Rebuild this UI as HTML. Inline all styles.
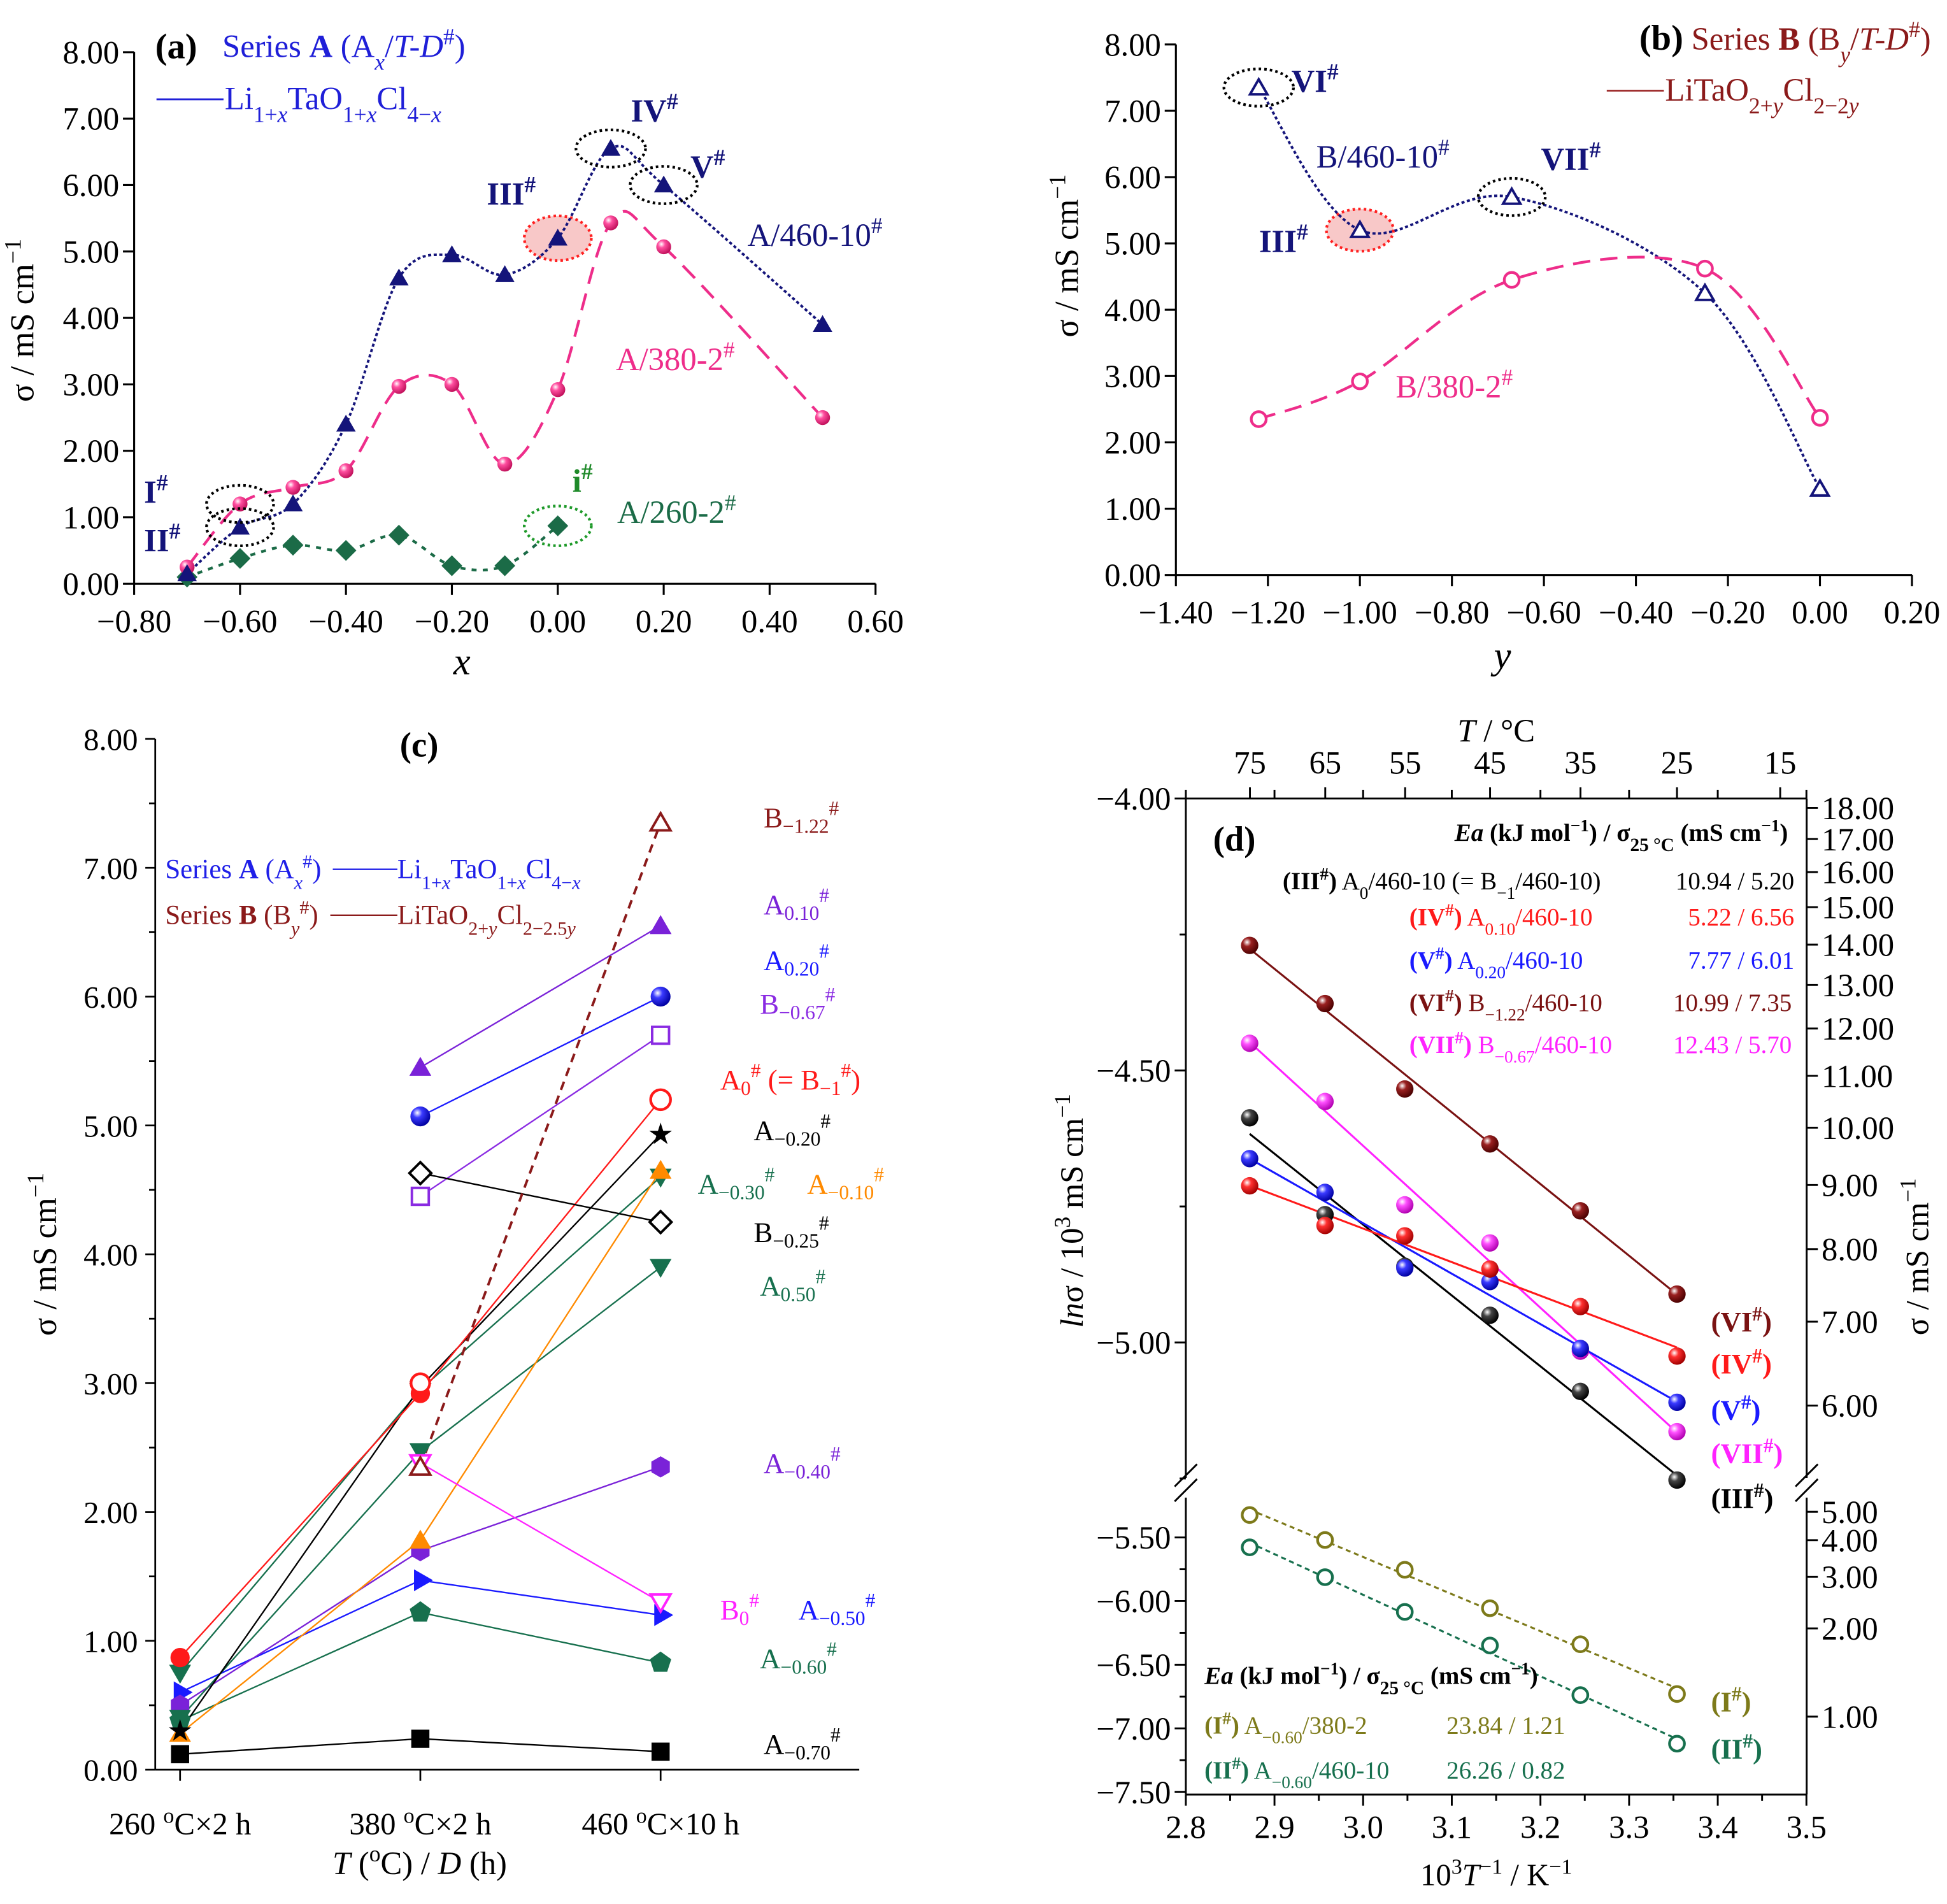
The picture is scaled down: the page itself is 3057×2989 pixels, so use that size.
<!DOCTYPE html>
<html><head><meta charset="utf-8">
<style>
html,body{margin:0;padding:0;background:#fff;}
svg, svg text{font-family:"Liberation Serif","DejaVu Serif",serif;}
</style></head>
<body>
<svg id="fig" xmlns="http://www.w3.org/2000/svg" width="3057" height="2984" viewBox="0 0 1568 1530.6" font-family="Liberation Serif, serif">
<defs id="defs"></defs>
<g id="pa"></g>
<g id="pb"></g>
<g id="pc"></g>
<g id="pd"></g>

<g font-size="26">
<text x="125" y="47" font-weight="bold" font-size="29">(a)</text>
<text x="179" y="46" fill="#1f1fd8">Series <tspan font-weight="bold">A</tspan> (A<tspan font-size="70%" baseline-shift="sub" font-style="italic">x</tspan>/<tspan font-style="italic">T-D</tspan><tspan font-size="70%" baseline-shift="super">#</tspan>)</text>
<line x1="126" y1="80" x2="180" y2="80" stroke="#1f1fd8" stroke-width="1.5"/>
<text x="181" y="88" fill="#1f1fd8">Li<tspan font-size="70%" baseline-shift="sub">1+<tspan font-style="italic">x</tspan></tspan>TaO<tspan font-size="70%" baseline-shift="sub">1+<tspan font-style="italic">x</tspan></tspan>Cl<tspan font-size="70%" baseline-shift="sub">4−<tspan font-style="italic">x</tspan></tspan></text>
<text x="508" y="98" font-weight="bold" fill="#14147a">IV<tspan font-size="70%" baseline-shift="super">#</tspan></text>
<text x="556" y="143" font-weight="bold" fill="#14147a">V<tspan font-size="70%" baseline-shift="super">#</tspan></text>
<text x="392" y="165" font-weight="bold" fill="#14147a">III<tspan font-size="70%" baseline-shift="super">#</tspan></text>
<text x="116" y="405" font-weight="bold" fill="#14147a">I<tspan font-size="70%" baseline-shift="super">#</tspan></text>
<text x="116" y="444" font-weight="bold" fill="#14147a">II<tspan font-size="70%" baseline-shift="super">#</tspan></text>
<text x="461" y="396" font-weight="bold" fill="#1f8a2a">i<tspan font-size="70%" baseline-shift="super">#</tspan></text>
<text x="602" y="198" fill="#14147a">A/460-10<tspan font-size="70%" baseline-shift="super">#</tspan></text>
<text x="496" y="298" fill="#ee2d8a">A/380-2<tspan font-size="70%" baseline-shift="super">#</tspan></text>
<text x="497" y="421" fill="#1b6b47">A/260-2<tspan font-size="70%" baseline-shift="super">#</tspan></text>
<text x="372" y="543" font-style="italic" font-size="31" text-anchor="middle">x</text>
<text transform="translate(27,258) rotate(-90)" text-anchor="middle" font-size="27">σ / mS cm<tspan font-size="70%" baseline-shift="super">−1</tspan></text>
</g>

<g font-size="26">
<text x="1555" y="40" text-anchor="end" fill="#8b1a1a"><tspan font-weight="bold" font-size="29" fill="#000">(b)</tspan> Series <tspan font-weight="bold">B</tspan> (B<tspan font-size="70%" baseline-shift="sub" font-style="italic">y</tspan>/<tspan font-style="italic">T-D</tspan><tspan font-size="70%" baseline-shift="super">#</tspan>)</text>
<line x1="1294" y1="73" x2="1340" y2="73" stroke="#a03030" stroke-width="1.5"/>
<text x="1341" y="81" fill="#8b1a1a">LiTaO<tspan font-size="70%" baseline-shift="sub">2+<tspan font-style="italic">y</tspan></tspan>Cl<tspan font-size="70%" baseline-shift="sub">2−2<tspan font-style="italic">y</tspan></tspan></text>
<text x="1040" y="74" font-weight="bold" fill="#14147a">VI<tspan font-size="70%" baseline-shift="super">#</tspan></text>
<text x="1060" y="135" fill="#14147a">B/460-10<tspan font-size="70%" baseline-shift="super">#</tspan></text>
<text x="1241" y="137" font-weight="bold" fill="#14147a">VII<tspan font-size="70%" baseline-shift="super">#</tspan></text>
<text x="1014" y="203" font-weight="bold" fill="#14147a">III<tspan font-size="70%" baseline-shift="super">#</tspan></text>
<text x="1124" y="320" fill="#ee2d8a">B/380-2<tspan font-size="70%" baseline-shift="super">#</tspan></text>
<text x="1210" y="538" font-style="italic" font-size="31" text-anchor="middle">y</text>
<text transform="translate(868,206) rotate(-90)" text-anchor="middle" font-size="27">σ / mS cm<tspan font-size="70%" baseline-shift="super">−1</tspan></text>
</g>

<g font-size="22">
<text x="322" y="609" font-weight="bold" font-size="28">(c)</text>
<text x="133" y="707" fill="#1f1fe8">Series <tspan font-weight="bold">A</tspan> (A<tspan font-size="70%" baseline-shift="sub" font-style="italic">x</tspan><tspan font-size="70%" baseline-shift="super">#</tspan>)</text>
<line x1="268" y1="700" x2="320" y2="700" stroke="#1f1fe8" stroke-width="1.2"/>
<text x="320" y="707" fill="#1f1fe8">Li<tspan font-size="70%" baseline-shift="sub">1+<tspan font-style="italic">x</tspan></tspan>TaO<tspan font-size="70%" baseline-shift="sub">1+<tspan font-style="italic">x</tspan></tspan>Cl<tspan font-size="70%" baseline-shift="sub">4−<tspan font-style="italic">x</tspan></tspan></text>
<text x="133" y="744" fill="#8b1a1a">Series <tspan font-weight="bold">B</tspan> (B<tspan font-size="70%" baseline-shift="sub" font-style="italic">y</tspan><tspan font-size="70%" baseline-shift="super">#</tspan>)</text>
<line x1="266" y1="737" x2="320" y2="737" stroke="#8b1a1a" stroke-width="1.2"/>
<text x="320" y="744" fill="#8b1a1a">LiTaO<tspan font-size="70%" baseline-shift="sub">2+<tspan font-style="italic">y</tspan></tspan>Cl<tspan font-size="70%" baseline-shift="sub">2−2.5<tspan font-style="italic">y</tspan></tspan></text>
<text x="338" y="1509" text-anchor="middle" font-size="26"><tspan font-style="italic">T</tspan> (<tspan font-size="70%" baseline-shift="super">o</tspan>C) / <tspan font-style="italic">D</tspan> (h)</text>
<text transform="translate(45,1010) rotate(-90)" text-anchor="middle" font-size="27">σ / mS cm<tspan font-size="70%" baseline-shift="super">−1</tspan></text>
</g>

<g font-size="20">
<text x="977" y="685" font-weight="bold" font-size="28">(d)</text>
<text x="1440" y="677" text-anchor="end" font-weight="bold"><tspan font-style="italic">Ea</tspan> (kJ mol<tspan font-size="70%" baseline-shift="super">−1</tspan>) / σ<tspan font-size="75%" baseline-shift="sub">25 °C</tspan> (mS cm<tspan font-size="70%" baseline-shift="super">−1</tspan>)</text>
<text x="1033" y="716"><tspan font-weight="bold">(III<tspan font-size="70%" baseline-shift="super">#</tspan>)</tspan> A<tspan font-size="70%" baseline-shift="sub">0</tspan>/460-10 (= B<tspan font-size="70%" baseline-shift="sub">−1</tspan>/460-10)</text>
<text x="1445" y="716" text-anchor="end">10.94 / 5.20</text>
<text x="1135" y="745" fill="#ff1a1a"><tspan font-weight="bold">(IV<tspan font-size="70%" baseline-shift="super">#</tspan>)</tspan> A<tspan font-size="70%" baseline-shift="sub">0.10</tspan>/460-10</text>
<text x="1445" y="745" text-anchor="end" fill="#ff1a1a">5.22 / 6.56</text>
<text x="1135" y="780" fill="#1a1aff"><tspan font-weight="bold">(V<tspan font-size="70%" baseline-shift="super">#</tspan>)</tspan> A<tspan font-size="70%" baseline-shift="sub">0.20</tspan>/460-10</text>
<text x="1445" y="780" text-anchor="end" fill="#1a1aff">7.77 / 6.01</text>
<text x="1135" y="814" fill="#7a1212"><tspan font-weight="bold">(VI<tspan font-size="70%" baseline-shift="super">#</tspan>)</tspan> B<tspan font-size="70%" baseline-shift="sub">−1.22</tspan>/460-10</text>
<text x="1443" y="814" text-anchor="end" fill="#7a1212">10.99 / 7.35</text>
<text x="1135" y="848" fill="#ff22ff"><tspan font-weight="bold">(VII<tspan font-size="70%" baseline-shift="super">#</tspan>)</tspan> B<tspan font-size="70%" baseline-shift="sub">−0.67</tspan>/460-10</text>
<text x="1443" y="848" text-anchor="end" fill="#ff22ff">12.43 / 5.70</text>
<g font-size="23" font-weight="bold">
<text x="1378" y="1072" fill="#7a1212">(VI<tspan font-size="70%" baseline-shift="super">#</tspan>)</text>
<text x="1378" y="1106" fill="#ff1a1a">(IV<tspan font-size="70%" baseline-shift="super">#</tspan>)</text>
<text x="1378" y="1143" fill="#1a1aff">(V<tspan font-size="70%" baseline-shift="super">#</tspan>)</text>
<text x="1378" y="1178" fill="#ff22ff">(VII<tspan font-size="70%" baseline-shift="super">#</tspan>)</text>
<text x="1378" y="1214" fill="#000">(III<tspan font-size="70%" baseline-shift="super">#</tspan>)</text>
<text x="1378" y="1378" fill="#7d7a1a">(I<tspan font-size="70%" baseline-shift="super">#</tspan>)</text>
<text x="1378" y="1416" fill="#17704e">(II<tspan font-size="70%" baseline-shift="super">#</tspan>)</text>
</g>
<text x="970" y="1356" font-weight="bold"><tspan font-style="italic">Ea</tspan> (kJ mol<tspan font-size="70%" baseline-shift="super">−1</tspan>) / σ<tspan font-size="75%" baseline-shift="sub">25 °C</tspan> (mS cm<tspan font-size="70%" baseline-shift="super">−1</tspan>)</text>
<text x="970" y="1396" fill="#7d7a1a"><tspan font-weight="bold">(I<tspan font-size="70%" baseline-shift="super">#</tspan>)</tspan> A<tspan font-size="70%" baseline-shift="sub">−0.60</tspan>/380-2</text>
<text x="1165" y="1396" fill="#7d7a1a">23.84 / 1.21</text>
<text x="970" y="1432" fill="#17704e"><tspan font-weight="bold">(II<tspan font-size="70%" baseline-shift="super">#</tspan>)</tspan> A<tspan font-size="70%" baseline-shift="sub">−0.60</tspan>/460-10</text>
<text x="1165" y="1432" fill="#17704e">26.26 / 0.82</text>
<text x="1205" y="597" text-anchor="middle" font-size="26"><tspan font-style="italic">T</tspan> / °C</text>
<text x="1205" y="1518" text-anchor="middle" font-size="25">10<tspan font-size="70%" baseline-shift="super">3</tspan><tspan font-style="italic">T</tspan><tspan font-size="70%" baseline-shift="super">−1</tspan> / K<tspan font-size="70%" baseline-shift="super">−1</tspan></text>
<text transform="translate(872,975) rotate(-90)" text-anchor="middle" font-size="26"><tspan font-style="italic">ln</tspan>σ / 10<tspan font-size="70%" baseline-shift="super">3</tspan> mS cm<tspan font-size="70%" baseline-shift="super">−1</tspan></text>
<text transform="translate(1553,1012) rotate(-90)" text-anchor="middle" font-size="26">σ / mS cm<tspan font-size="70%" baseline-shift="super">−1</tspan></text>
</g>
</svg>
<script>
// ---------- DATA ----------
const aX = [-0.7,-0.6,-0.5,-0.4,-0.3,-0.2,-0.1,0.0,0.1,0.2,0.5];
const a460 = [0.15,0.85,1.2,2.4,4.6,4.95,4.65,5.2,6.55,6.0,3.9];
const a380 = [0.25,1.2,1.45,1.7,2.97,3.0,1.8,2.92,5.43,5.07,2.5];
const a260X = [-0.7,-0.6,-0.5,-0.4,-0.3,-0.2,-0.1,0.0];
const a260 = [0.1,0.38,0.58,0.5,0.73,0.27,0.27,0.87];
const aXTicks = [-0.8,-0.6,-0.4,-0.2,0,0.2,0.4,0.6];
const aYTicks = [0,1,2,3,4,5,6,7,8];
const bX = [-1.22,-1.0,-0.67,-0.25,0.0];
const b460 = [7.35,5.2,5.7,4.25,1.3];
const b380 = [2.35,2.92,4.45,4.62,2.37];
const bXTicks = [-1.4,-1.2,-1.0,-0.8,-0.6,-0.4,-0.2,0,0.2];
const bYTicks = [0,1,2,3,4,5,6,7,8];
const cCats = ["260 oC×2 h","380 oC×2 h","460 oC×10 h"];
const cYTicks = [0,1,2,3,4,5,6,7,8];
const cNames = ["A-0.70","A-0.60","A-0.50","A-0.40","A-0.30","A0.50","A-0.10","A-0.20","A0","A0.10","A0.20","B-0.67","B-0.25","B0","B-1.22"];
const cVals = [
 [0.12,0.24,0.14],
 [0.38,1.22,0.83],
 [0.6,1.47,1.2],
 [0.5,1.7,2.35],
 [0.75,2.95,4.6],
 [0.4,2.47,3.9],
 [0.28,1.78,4.65],
 [0.3,2.97,4.93],
 [0.87,2.92,5.2],
 [null,5.45,6.55],
 [null,5.07,6.0],
 [null,4.45,5.7],
 [null,4.63,4.25],
 [null,2.38,1.3],
 [null,2.35,7.35]
];
const cLabels = ["A_{−0.70}","A_{−0.60}","A_{−0.50}","A_{−0.40}","A_{−0.30}","A_{0.50}","A_{−0.10}","A_{−0.20}","A_{0}","A_{0.10}","A_{0.20}","B_{−0.67}","B_{−0.25}","B_{0}","B_{−1.22}"];
const dX = [2.872,2.957,3.047,3.143,3.245,3.354];
const dVI = [-4.27,-4.377,-4.534,-4.635,-4.758,-4.911];
const dVII = [-4.45,-4.557,-4.747,-4.817,-5.016,-5.164];
const dIII = [-4.587,-4.765,-4.86,-4.95,-5.09,-5.253];
const dV = [-4.662,-4.724,-4.863,-4.888,-5.011,-5.11];
const dIV = [-4.712,-4.785,-4.804,-4.865,-4.934,-5.025];
const dI = [-5.324,-5.52,-5.754,-6.056,-6.339,-6.73];
const dII = [-5.578,-5.812,-6.085,-6.349,-6.739,-7.12];
const dXTicks = [2.8,2.9,3.0,3.1,3.2,3.3,3.4,3.5];
const dYTicksU = [-4.0,-4.5,-5.0];
const dYTicksL = [-5.5,-6.0,-6.5,-7.0,-7.5];
const dTopT = [75,65,55,45,35,25,15];
const dRightU = [6,7,8,9,10,11,12,13,14,15,16,17,18];
const dRightL = [1,2,3,4,5];

// ---------- HELPERS ----------
const NS = "http://www.w3.org/2000/svg";
function el(tag, attrs, parent){ const e=document.createElementNS(NS,tag); for(const k in attrs) e.setAttribute(k,attrs[k]); parent.appendChild(e); return e; }
function fmt2(v){ return (v<0?"−":"")+Math.abs(v).toFixed(2); }
function spline(pts){
  let d="M"+pts[0][0]+","+pts[0][1];
  for(let i=0;i<pts.length-1;i++){
    const p0=pts[i-1]||pts[i], p1=pts[i], p2=pts[i+1], p3=pts[i+2]||p2;
    const c1=[p1[0]+(p2[0]-p0[0])/6, p1[1]+(p2[1]-p0[1])/6];
    const c2=[p2[0]-(p3[0]-p1[0])/6, p2[1]-(p3[1]-p1[1])/6];
    d+=" C"+c1[0]+","+c1[1]+" "+c2[0]+","+c2[1]+" "+p2[0]+","+p2[1];
  }
  return d;
}
const defs=document.getElementById('defs');
function sphereGrad(id,col,dark){
  const g=el('radialGradient',{id:id,cx:"0.35",cy:"0.32",r:"0.7"},defs);
  el('stop',{offset:"0",'stop-color':"#fff"},g);
  el('stop',{offset:"0.35",'stop-color':col},g);
  el('stop',{offset:"1",'stop-color':dark},g);
}
sphereGrad('sp-pink','#ff4fa0','#c0105a');
sphereGrad('sp-blue','#3a3aff','#0000a0');
sphereGrad('sp-red','#ff3030','#a00000');
sphereGrad('sp-black','#444','#000');
sphereGrad('sp-dred','#9a2020','#4a0000');
sphereGrad('sp-mag','#ff50ff','#b000b0');

function polyPts(cx,cy,r,n,rot){ let s=[]; for(let i=0;i<n;i++){const a=rot+i*2*Math.PI/n; s.push((cx+r*Math.cos(a)).toFixed(2)+","+(cy+r*Math.sin(a)).toFixed(2));} return s.join(" "); }
function marker(g,type,x,y,r,color,open){
  const fill=open?"#fff":color, sw=open?2:1;
  let e;
  if(type==='circle') e=el('circle',{cx:x,cy:y,r:r,fill:open?"#fff":color,stroke:color,'stroke-width':open?2.2:0.5},g);
  else if(type==='sphere') e=el('circle',{cx:x,cy:y,r:r,fill:"url(#"+color+")"},g);
  else if(type==='tri') e=el('polygon',{points:polyPts(x,y+r*0.2,r*1.15,3,-Math.PI/2),fill:fill,stroke:color,'stroke-width':sw},g);
  else if(type==='dtri') e=el('polygon',{points:polyPts(x,y-r*0.2,r*1.15,3,Math.PI/2),fill:fill,stroke:color,'stroke-width':sw},g);
  else if(type==='rtri') e=el('polygon',{points:polyPts(x,y,r*1.15,3,0),fill:fill,stroke:color,'stroke-width':sw},g);
  else if(type==='diamond') e=el('polygon',{points:polyPts(x,y,r*1.1,4,0),fill:fill,stroke:color,'stroke-width':sw},g);
  else if(type==='square') e=el('rect',{x:x-r*0.85,y:y-r*0.85,width:r*1.7,height:r*1.7,fill:fill,stroke:color,'stroke-width':sw},g);
  else if(type==='pent') e=el('polygon',{points:polyPts(x,y,r*1.05,5,-Math.PI/2),fill:fill,stroke:color,'stroke-width':sw},g);
  else if(type==='hex') e=el('polygon',{points:polyPts(x,y,r*1.0,6,Math.PI/2),fill:fill,stroke:color,'stroke-width':sw},g);
  else if(type==='star'){ let s=[]; for(let i=0;i<10;i++){const a=-Math.PI/2+i*Math.PI/5, rr=i%2?r*0.45:r*1.2; s.push((x+rr*Math.cos(a)).toFixed(2)+","+(y+rr*Math.sin(a)).toFixed(2));} e=el('polygon',{points:s.join(" "),fill:color},g); }
  return e;
}

// ---------- PANEL A ----------
(function(){
const g=document.getElementById('pa');
const X=x=>108+(x+0.8)/0.2*85.3, Y=v=>470-v*53.5;
const ax=el('g',{stroke:"#000",'stroke-width':1.6,fill:"none"},g);


el('line',{x1:X(-0.8),y1:Y(0),x2:X(0.6),y2:Y(0)},ax);
el('line',{x1:X(-0.8),y1:Y(0),x2:X(-0.8),y2:Y(8)},ax);
aYTicks.forEach(v=>{ el('line',{x1:X(-0.8)-9,y1:Y(v),x2:X(-0.8),y2:Y(v)},ax);
  const t=el('text',{x:X(-0.8)-12,y:Y(v)+9,'text-anchor':'end','font-size':26},g); t.textContent=fmt2(v);
    });
aXTicks.forEach(v=>{ el('line',{x1:X(v),y1:Y(0),x2:X(v),y2:Y(0)+9},ax);
  const t=el('text',{x:X(v),y:Y(0)+39,'text-anchor':'middle','font-size':26},g); t.textContent=fmt2(v);
    });
function ell(x,v,rx,ry,col,fill,name){ const e=el('ellipse',{cx:X(x),cy:Y(v),rx:rx,ry:ry,fill:fill,stroke:col,'stroke-width':2.2,'stroke-dasharray':"2 2.5"},g);
    }
ell(aX[7],a460[7],27,18,"#ff2020","#f8c8c8","ellipse-III");
const s1=el('path',{d:spline(aX.map((x,i)=>[X(x),Y(a460[i])])),fill:"none",stroke:"#14147a",'stroke-width':2,'stroke-dasharray':"2.5 2"},g);
 
const s2=el('path',{d:spline(aX.map((x,i)=>[X(x),Y(a380[i])])),fill:"none",stroke:"#ee2d8a",'stroke-width':2.2,'stroke-dasharray':"14 8"},g);
 
const s3=el('path',{d:spline(a260X.map((x,i)=>[X(x),Y(a260[i])])),fill:"none",stroke:"#1b6b47",'stroke-width':2.2,'stroke-dasharray':"4 5"},g);
 
a260X.forEach((x,i)=>{ const m=marker(g,'diamond',X(x),Y(a260[i]),7,"#1b6b47",false);   });
aX.forEach((x,i)=>{ const m=marker(g,'sphere',X(x),Y(a380[i]),6,"sp-pink",false);   });
aX.forEach((x,i)=>{ const m=marker(g,'tri',X(x),Y(a460[i]),7,"#14147a",false);   });
ell(aX[1],a380[1],27,15,"#000","none","ellipse-I");
ell(aX[1],a460[1],27,15,"#000","none","ellipse-II");
ell(aX[8],a460[8],28,15,"#000","none","ellipse-IV");
ell(aX[9],a460[9],27,15,"#000","none","ellipse-V");
ell(a260X[7],a260[7],27,16,"#1f9a2a","none","ellipse-i");
})();

// ---------- PANEL B ----------
(function(){
const g=document.getElementById('pb');
const X=x=>947+(x+1.4)/0.2*74.1, Y=v=>463-v*53.4;
const ax=el('g',{stroke:"#000",'stroke-width':1.6,fill:"none"},g);


el('line',{x1:X(-1.4),y1:Y(0),x2:X(0.2),y2:Y(0)},ax);
el('line',{x1:X(-1.4),y1:Y(0),x2:X(-1.4),y2:Y(8)},ax);
bYTicks.forEach(v=>{ el('line',{x1:X(-1.4)-9,y1:Y(v),x2:X(-1.4),y2:Y(v)},ax);
  const t=el('text',{x:X(-1.4)-12,y:Y(v)+9,'text-anchor':'end','font-size':26},g); t.textContent=fmt2(v);
    });
bXTicks.forEach(v=>{ el('line',{x1:X(v),y1:Y(0),x2:X(v),y2:Y(0)+9},ax);
  const t=el('text',{x:X(v),y:Y(0)+39,'text-anchor':'middle','font-size':26},g); t.textContent=fmt2(v);
    });
function ell(x,v,rx,ry,col,fill,name){ const e=el('ellipse',{cx:X(x),cy:Y(v),rx:rx,ry:ry,fill:fill,stroke:col,'stroke-width':2.2,'stroke-dasharray':"2 2.5"},g);
    }
ell(bX[1],b460[1],27,17,"#ff2020","#f8c8c8","ellipse-III-b");
const s1=el('path',{d:spline(bX.map((x,i)=>[X(x),Y(b460[i])])),fill:"none",stroke:"#14147a",'stroke-width':2,'stroke-dasharray':"2.5 2"},g);
 
const s2=el('path',{d:spline(bX.map((x,i)=>[X(x),Y(b380[i])])),fill:"none",stroke:"#ee2d8a",'stroke-width':2.2,'stroke-dasharray':"14 8"},g);
 
bX.forEach((x,i)=>{ const m=marker(g,'circle',X(x),Y(b380[i]),6,"#ee2d8a",true);   });
bX.forEach((x,i)=>{ const m=marker(g,'tri',X(x),Y(b460[i]),7,"#14147a",true);   });
ell(bX[0],b460[0],28,15,"#000","none","ellipse-VI");
ell(bX[2],b460[2],27,15,"#000","none","ellipse-VII");
})();

// ---------- PANEL C ----------
(function(){
const g=document.getElementById('pc');
const X=i=>145+i*193.5, Y=v=>1425-v*103.75;
const ax=el('g',{stroke:"#000",'stroke-width':1.4,fill:"none"},g);


el('line',{x1:125,y1:Y(0),x2:692,y2:Y(0)},ax);
el('line',{x1:125,y1:Y(0),x2:125,y2:Y(8)},ax);
cYTicks.forEach(v=>{ el('line',{x1:117,y1:Y(v),x2:125,y2:Y(v)},ax);
  if(v<8) el('line',{x1:120,y1:Y(v+0.5),x2:125,y2:Y(v+0.5)},ax);
  const t=el('text',{x:111,y:Y(v)+9,'text-anchor':'end','font-size':25},g); t.textContent=fmt2(v);
    });
cCats.forEach((c,i)=>{ el('line',{x1:X(i),y1:Y(0),x2:X(i),y2:Y(0)+9},ax);
  const t=el('text',{x:X(i),y:Y(0)+52,'text-anchor':'middle','font-size':25},g);
  const parts=c.split(" oC");
  t.appendChild(document.createTextNode(parts[0]+" "));
  const sp=el('tspan',{'font-size':'70%','baseline-shift':'super'},t); sp.textContent="o";
  t.appendChild(document.createTextNode("C"+parts[1]));
    });
const cStyle = [
 {c:"#000",m:"square",o:false},{c:"#17704e",m:"pent",o:false},{c:"#1a1aff",m:"rtri",o:false},{c:"#7a22d8",m:"hex",o:false},
 {c:"#17704e",m:"dtri",o:false},{c:"#17704e",m:"dtri",o:false},{c:"#ff8a00",m:"tri",o:false},{c:"#000",m:"star",o:false},
 {c:"#ff1a1a",m:"circle",o:true},{c:"#7a22d8",m:"tri",o:false},{c:"#1a1aff",m:"sphere",o:false,g:"sp-blue"},
 {c:"#8a2be2",m:"square",o:true},{c:"#000",m:"diamond",o:true},{c:"#ff22ff",m:"dtri",o:true},{c:"#8b1a1a",m:"tri",o:true}
];
cVals.forEach((vals,k)=>{
  const st=cStyle[k]; const pts=[];
  vals.forEach((v,i)=>{ if(v!==null) pts.push([X(i),Y(v)]); });
  const ln=el('polyline',{points:pts.map(p=>p.join(",")).join(" "),fill:"none",stroke:st.c,'stroke-width':k==14?2:1.2},g);
  if(k==14) ln.setAttribute('stroke-dasharray','7 5');
  
  
});
cVals.forEach((vals,k)=>{
  const st=cStyle[k];
  vals.forEach((v,i)=>{ if(v===null) return;
    let m;
    if(st.m==='sphere') m=marker(g,'sphere',X(i),Y(v),8,st.g,false);
    else if(k==8 && i<2) m=marker(g,'circle',X(i),Y(v),7.5,st.c,false);
    else m=marker(g,st.m,X(i),Y(v),8,st.c,st.o);
    
    
  });
});
const oc=marker(g,'circle',X(1),Y(3.0),7.5,"#ff1a1a",true);


const lblPos=[[615,1412],[612,1343],[643,1304],[615,1186],[562,961],[612,1043],[650,961],[607,918],[580,877],[615,736],[615,781],[612,816],[607,1000],[580,1304],[615,666]];
cLabels.forEach((s,k)=>{
  const st=cStyle[k];
  const t=el('text',{x:lblPos[k][0],y:lblPos[k][1],'font-size':23,fill:st.c},g);
  const m=s.match(/^(.)_\{(.*)\}$/);
  t.appendChild(document.createTextNode(m[1]));
  const sb=el('tspan',{'font-size':'70%','baseline-shift':'-30%'},t); sb.textContent=m[2];
  const sp=el('tspan',{'font-size':'70%','baseline-shift':'60%'},t); sp.textContent="#";
  if(k==8){ t.appendChild(document.createTextNode(" (= B")); const s2=el('tspan',{'font-size':'70%','baseline-shift':'-30%'},t); s2.textContent="−1"; const s3=el('tspan',{'font-size':'70%','baseline-shift':'60%'},t); s3.textContent="#"; t.appendChild(document.createTextNode(")")); }
  
  
});
})();

// ---------- PANEL D ----------
(function(){
const g=document.getElementById('pd');
const X=x=>955+(x-2.8)/0.1*71.4;
const YU=v=>643+(-4-v)*438, YL=v=>1238+(-5.5-v)*102.5;
const L=955,R=1455,T=643,B=1445;
const ax=el('g',{stroke:"#000",'stroke-width':1.5,fill:"none"},g);


el('line',{x1:L,y1:B,x2:R,y2:B},ax);
el('line',{x1:L,y1:T,x2:R,y2:T},ax);
el('line',{x1:L,y1:T,x2:L,y2:1190},ax);
el('line',{x1:L,y1:1206,x2:L,y2:B},ax);
el('line',{x1:R,y1:T,x2:R,y2:1190},ax);
el('line',{x1:R,y1:1206,x2:R,y2:B},ax);
[[L,1188],[L,1200],[R,1188],[R,1200]].forEach(p=>el('line',{x1:p[0]-9,y1:p[1]+9,x2:p[0]+9,y2:p[1]-9},ax));
dXTicks.forEach(v=>{ el('line',{x1:X(v),y1:B,x2:X(v),y2:B+9},ax);
  if(v<3.5) el('line',{x1:X(v+0.05),y1:B,x2:X(v+0.05),y2:B+5},ax);
  el('line',{x1:X(v),y1:T,x2:X(v),y2:T-7},ax);
  const t=el('text',{x:X(v),y:B+35,'text-anchor':'middle','font-size':26},g); t.textContent=v.toFixed(1);
    });
dTopT.forEach(tc=>{ const x=X(1000/(tc+273.15));
  el('line',{x1:x,y1:T,x2:x,y2:T-9},ax);
  const t=el('text',{x:x,y:T-20,'text-anchor':'middle','font-size':26},g); t.textContent=tc;
    });
dYTicksU.forEach(v=>{ el('line',{x1:L-9,y1:YU(v),x2:L,y2:YU(v)},ax);
  if(v>-5) el('line',{x1:L-5,y1:YU(v-0.25),x2:L,y2:YU(v-0.25)},ax);
  const t=el('text',{x:L-12,y:YU(v)+9,'text-anchor':'end','font-size':26},g); t.textContent=fmt2(v);
    });
el('line',{x1:L-5,y1:YU(-5.25),x2:L,y2:YU(-5.25)},ax);
dYTicksL.forEach(v=>{ el('line',{x1:L-9,y1:YL(v),x2:L,y2:YL(v)},ax);
  if(v>-7.5) el('line',{x1:L-5,y1:YL(v-0.25),x2:L,y2:YL(v-0.25)},ax);
  const t=el('text',{x:L-12,y:YL(v)+9,'text-anchor':'end','font-size':26},g); t.textContent=fmt2(v);
    });
dRightU.forEach(s=>{ const y=YU(Math.log(s/1000));
  el('line',{x1:R,y1:y,x2:R+9,y2:y},ax);
  const t=el('text',{x:R+12,y:y+9,'font-size':26},g); t.textContent=s.toFixed(2);
    });
dRightL.forEach(s=>{ const y=YL(Math.log(s/1000));
  el('line',{x1:R,y1:y,x2:R+9,y2:y},ax);
  const t=el('text',{x:R+12,y:y+9,'font-size':26},g); t.textContent=s.toFixed(2);
    });
function fit(ys){ const n=dX.length; let sx=0,sy=0,sxx=0,sxy=0; for(let i=0;i<n;i++){sx+=dX[i];sy+=ys[i];sxx+=dX[i]*dX[i];sxy+=dX[i]*ys[i];} const b=(n*sxy-sx*sy)/(n*sxx-sx*sx); return [b,(sy-b*sx)/n]; }
const upper=[[dVI,"#7a1212","sp-dred","VI"],[dVII,"#ff22ff","sp-mag","VII"],[dIII,"#000","sp-black","III"],[dV,"#1a1aff","sp-blue","V"],[dIV,"#ff1a1a","sp-red","IV"]];
upper.forEach(s=>{ const f=fit(s[0]); const x0=dX[0],x1=dX[5];
  const ln=el('line',{x1:X(x0),y1:YU(f[0]*x0+f[1]),x2:X(x1),y2:YU(f[0]*x1+f[1]),stroke:s[1],'stroke-width':1.6},g);
    });
upper.forEach(s=>{ s[0].forEach((v,i)=>{ const m=marker(g,'sphere',X(dX[i]),YU(v),7,s[2],false);
    }); });
const lower=[[dI,"#7d7a1a","I"],[dII,"#17704e","II"]];
lower.forEach(s=>{ const f=fit(s[0]); const x0=dX[0],x1=dX[5];
  const ln=el('line',{x1:X(x0),y1:YL(f[0]*x0+f[1]),x2:X(x1),y2:YL(f[0]*x1+f[1]),stroke:s[1],'stroke-width':1.6,'stroke-dasharray':"4 3"},g);
   
  s[0].forEach((v,i)=>{ const m=marker(g,'circle',X(dX[i]),YL(v),6,s[1],true);
      }); });
})();
</script>
</body></html>
